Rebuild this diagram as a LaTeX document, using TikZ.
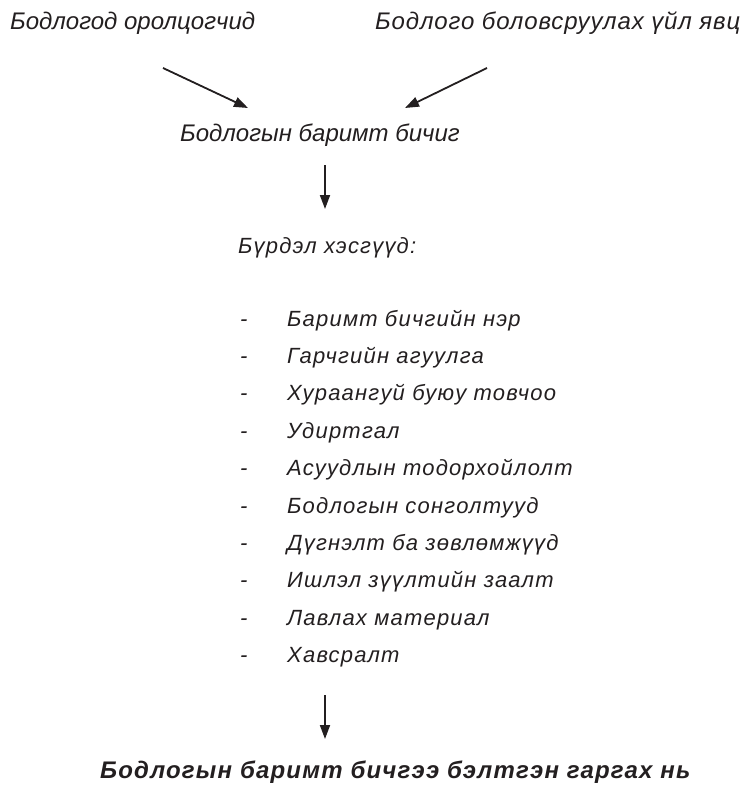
\documentclass[tikz,border=0pt]{standalone}
\usepackage{fontspec}
\setmainfont{Liberation Sans}
\newfontfamily\wideit[LetterSpace=5.5]{Liberation Sans}
\newfontfamily\spacedit[LetterSpace=3.6]{Liberation Sans}
\newfontfamily\boldit[LetterSpace=5]{Liberation Sans}
\usetikzlibrary{arrows.meta}
\definecolor{ink}{HTML}{231F20}
\begin{document}
\begin{tikzpicture}[x=1pt,y=-1pt,
  nar/.style={anchor=base west,inner sep=0pt,font=\itshape\fontsize{24}{28}\selectfont,text=ink},
  spc/.style={anchor=base west,inner sep=0pt,font=\spacedit\itshape\fontsize{24}{28}\selectfont,text=ink},
  wid/.style={anchor=base west,inner sep=0pt,font=\wideit\itshape\fontsize{22}{26}\selectfont,text=ink},
  fin/.style={anchor=base west,inner sep=0pt,font=\boldit\bfseries\itshape\fontsize{24}{28}\selectfont,text=ink},
  arr/.style={draw=ink,line width=1.8pt,-{Triangle[length=14pt,width=10pt]}}]
\useasboundingbox (0,0) rectangle (748,785);
\node[nar] (p1) at (10,29) {Бодлогод оролцогчид};
\node[spc] (p2) at (375,29) {Бодлого боловсруулах үйл явц};
\coordinate (a1s) at (163,68);
\coordinate (a1e) at (248,108);
\coordinate (a2s) at (487,68);
\coordinate (a2e) at (405,108);
\node[nar] (doc) at (180,141) {Бодлогын баримт бичиг};
\draw[arr] (a1s) -- (a1e);
\draw[arr] (a2s) -- (a2e);
\coordinate (d1s) at (325,165);
\coordinate (d1e) at (325,209);
\draw[arr] (d1s) -- (d1e);
\node[wid] (parts) at (238,253) {Бүрдэл хэсгүүд:};
\foreach \t [count=\i] in {Баримт бичгийн нэр,Гарчгийн агуулга,Хураангуй буюу товчоо,Удиртгал,Асуудлын тодорхойлолт,Бодлогын сонголтууд,Дүгнэлт ба зөвлөмжүүд,Ишлэл зүүлтийн заалт,Лавлах материал,Хавсралт}{
  \node[wid] (d\i) at (240,{326+37.4*(\i-1)}) {-};
  \node[wid] (l\i) at (287,{326+37.4*(\i-1)}) {\t};
}
\coordinate (d2s) at (325,695);
\coordinate (d2e) at (325,739);
\draw[arr] (d2s) -- (d2e);
\node[fin] (res) at (100,778) {Бодлогын баримт бичгээ бэлтгэн гаргах нь};
\end{tikzpicture}
\end{document}
